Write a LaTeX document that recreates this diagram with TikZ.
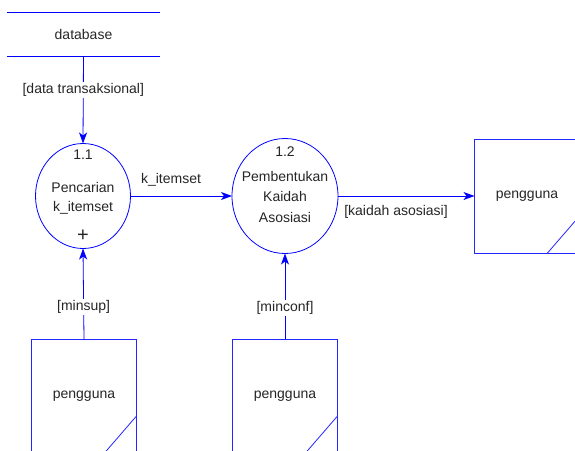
\documentclass[tikz,border=0pt]{standalone}
\usepackage{fontspec}
\setmainfont{Liberation Sans}
\usetikzlibrary{arrows.meta,shapes.geometric,calc}
\begin{document}
\begin{tikzpicture}[x=1pt,y=-1pt,
  every node/.style={font=\fontsize{14}{16}\selectfont, text=black!85},
  flow/.style={draw=blue, line width=0.8pt},
  tip/.style={-{Stealth[length=11pt,width=8pt,inset=3pt]}},
  proc/.style={draw=blue, line width=0.8pt, ellipse, outer sep=0pt, inner sep=0pt},
  store/.style={draw=blue!85, line width=0.8pt, rectangle, outer sep=0pt, inner sep=0pt, minimum width=105pt, minimum height=114pt},
  lbl/.style={fill=white, inner sep=1.5pt},
  txt/.style={inner sep=0pt}]
\fill[white] (0,0) rectangle (575,450);
\useasboundingbox (0,0) rectangle (575,450);
\clip (0,0) rectangle (575,450);

% data store
\node[txt, minimum width=153pt, minimum height=43pt] (db) at (83.5,34.5) {database};
\draw[flow] (db.north west) -- (db.north east);
\draw[flow] (db.south west) -- (db.south east);

% processes
\node[proc, minimum width=95pt, minimum height=105pt] (p1) at (83,196) {};
\node[txt] (p1n) at (83,155) {1.1};
\node[txt] (p1a) at (83,187) {Pencarian};
\node[txt] (p1b) at (83,208) {k\_itemset};
\node[txt, font=\fontsize{20}{20}\selectfont] (p1c) at (83,236) {+};

\node[proc, minimum width=106pt, minimum height=115pt] (p2) at (285,196) {};
\node[txt] (p2n) at (285,152) {1.2};
\node[txt] (p2a) at (285,176.5) {Pembentukan};
\node[txt] (p2b) at (285,196.5) {Kaidah};
\node[txt] (p2c) at (285,217) {Asosiasi};

% external entities
\node[store] (u1) at (84,396) {pengguna};
\node[store] (u2) at (285,396) {pengguna};
\node[store] (u3) at (527,196) {pengguna};
\foreach \u in {u1,u2,u3}{
  \draw[draw=blue!85, line width=0.8pt] ($(\u.north east)+(0,77)$) -- ($(\u.south east)+(-32,0)$);
}

% flows
\draw[flow,tip] (db.south) -- (p1.north) node[lbl,pos=0.39] (l1) {[data transaksional]};
\draw[flow,tip] (p1.east) -- (p2.west);
\node[txt] (l2) at (171,180) {k\_itemset};
\draw[flow,tip] (p2.east) -- (u3.west);
\node[txt] (l3) at (396,212) {[kaidah asosiasi]};
\draw[flow,tip] (u1.north) -- (p1.south) node[lbl,pos=0.35] (l4) {[minsup]};
\draw[flow,tip] (u2.north) -- (p2.south) node[lbl,pos=0.36] (l5) {[minconf]};
\end{tikzpicture}
\end{document}
